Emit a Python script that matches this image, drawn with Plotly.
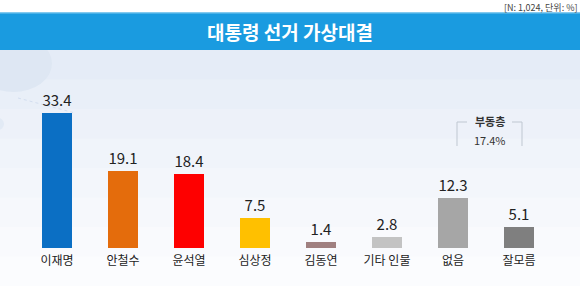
import plotly.graph_objects as go

categories = ["이재명", "안철수", "윤석열", "심상정", "김동연", "기타 인물", "없음", "잘모름"]
values = [33.4, 19.1, 18.4, 7.5, 1.4, 2.8, 12.3, 5.1]
bar_colors = ["#0b6fc4", "#e46c0c", "#fe0000", "#ffc000", "#a08080", "#c3c3c3", "#a6a6a6", "#7f7f7f"]
value_labels = ["33.4", "19.1", "18.4", "7.5", "1.4", "2.8", "12.3", "5.1"]
title_text = "대통령 선거 가상대결"
note_text = "[N: 1,024, 단위: %]"
floating_label = "부동층"
floating_value = "17.4%"

W, H = 580, 286
FONT = "Noto Sans CJK KR"

def px(x):
    return x / W

def py(y):
    return 1 - y / H

fig = go.Figure()
fig.add_trace(go.Bar(
    x=categories, y=values,
    marker=dict(color=bar_colors, line=dict(width=0)),
    width=0.455,
    text=value_labels, textposition="outside",
    textfont=dict(family=FONT, size=15, color="#222222"),
    cliponaxis=False,
    hoverinfo="skip",
))

shapes = []
# background gradient below the banner
grad = ["#e5ecf7", "#e9eff8", "#edf1f9", "#f0f4fa", "#f3f6fb", "#f6f8fc", "#f9fafd", "#fbfcfe"]
top, bottom = 50, 286
step = (bottom - top) / len(grad)
for i, c in enumerate(grad):
    shapes.append(dict(type="rect", xref="paper", yref="paper", layer="below",
                       x0=0, x1=1, y0=py(top + (i + 1) * step + 1), y1=py(top + i * step),
                       fillcolor=c, line=dict(width=0)))
# decorative circles
shapes.append(dict(type="circle", xref="paper", yref="paper", layer="below",
                   x0=px(-25), x1=px(52), y0=py(92), y1=py(35),
                   fillcolor="#dee7f3", line=dict(width=0)))
shapes.append(dict(type="circle", xref="paper", yref="paper", layer="below",
                   x0=px(-8), x1=px(4), y0=py(130), y1=py(118),
                   fillcolor="#e2eaf5", line=dict(width=0)))
shapes.append(dict(type="line", xref="paper", yref="paper", layer="below",
                   x0=px(18), x1=px(75), y0=py(98), y1=py(113),
                   line=dict(color="#d3def0", width=1, dash="dot")))
# banner
shapes.append(dict(type="rect", xref="paper", yref="paper", layer="below",
                   x0=0, x1=1, y0=py(50), y1=py(13),
                   fillcolor="#1a9be0", line=dict(width=0)))
shapes.append(dict(type="line", xref="paper", yref="paper", layer="below",
                   x0=0, x1=1, y0=py(13), y1=py(13),
                   line=dict(color="#5bb8ea", width=1.5)))
# bracket for 부동층
bc = "#bfc7d1"
for seg in [((457, 122), (457, 146)), ((457, 122), (467, 122)),
            ((522, 122), (522, 146)), ((512, 122), (522, 122))]:
    (x0, y0), (x1, y1) = seg
    shapes.append(dict(type="line", xref="paper", yref="paper",
                       x0=px(x0), x1=px(x1), y0=py(y0), y1=py(y1),
                       line=dict(color=bc, width=1)))

annotations = [
    dict(text=title_text, x=0.5, y=py(31.5), xref="paper", yref="paper",
         showarrow=False, font=dict(family=FONT, size=19, color="white", weight="bold"),
         xanchor="center", yanchor="middle"),
    dict(text=note_text, x=px(578), y=1, xref="paper", yref="paper",
         showarrow=False, font=dict(family=FONT, size=9, color="#444444"),
         xanchor="right", yanchor="top", borderpad=0),
    dict(text=floating_label, x=px(490), y=py(121), xref="paper", yref="paper",
         showarrow=False, font=dict(family=FONT, size=11, color="#333333", weight="bold"),
         xanchor="center", yanchor="middle"),
    dict(text=floating_value, x=px(490), y=py(140), xref="paper", yref="paper",
         showarrow=False, font=dict(family=FONT, size=11, color="#333333"),
         xanchor="center", yanchor="middle"),
]

fig.update_layout(
    width=W, height=H,
    margin=dict(l=0, r=0, t=0, b=0),
    paper_bgcolor="white", plot_bgcolor="rgba(0,0,0,0)",
    showlegend=False,
    shapes=shapes, annotations=annotations,
    xaxis=dict(domain=[px(24), px(552)], range=[-0.5, 7.5], showgrid=False, zeroline=False,
               showline=False, ticks="", fixedrange=True, ticklabelstandoff=4,
               tickfont=dict(family=FONT, size=12, color="#222222")),
    yaxis=dict(domain=[py(248), py(60)], range=[0, 46.5], visible=False, fixedrange=True),
    bargap=0,
)

fig.write_html("out.html", config={"displayModeBar": False})
